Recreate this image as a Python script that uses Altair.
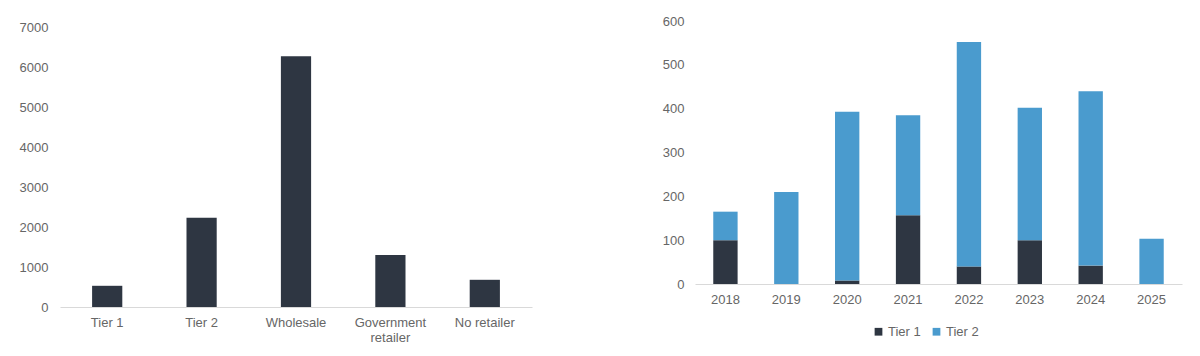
import altair as alt
import pandas as pd

# Left chart data
retail_cats = ["Tier 1", "Tier 2", "Wholesale", "Government retailer", "No retailer"]
retail_vals = [530, 2230, 6270, 1300, 680]

# Right chart data
years = ["2018", "2019", "2020", "2021", "2022", "2023", "2024", "2025"]
tier1 = [100, 0, 8, 157, 40, 100, 42, 0]
tier2 = [65, 210, 385, 228, 512, 302, 398, 103]

FONT = "Liberation Sans"
TXT = "#666666"
DARK = "#2E3642"
BLUE = "#4A9BCE"

df_left = pd.DataFrame({"cat": retail_cats, "val": retail_vals})

rows = []
for y, a, b in zip(years, tier1, tier2):
    rows.append({"year": y, "series": "Tier 1", "val": a, "ord": 0})
    rows.append({"year": y, "series": "Tier 2", "val": b, "ord": 1})
df_right = pd.DataFrame(rows)

left = alt.Chart(df_left).mark_bar(color=DARK).encode(
    x=alt.X("cat:N", sort=retail_cats, title=None,
            scale=alt.Scale(paddingInner=0.68, paddingOuter=0.34),
            axis=alt.Axis(labelAngle=0, ticks=False, domainColor="#D9D9D9",
                          labelPadding=9,
                          labelExpr="datum.label == 'Government retailer' ? ['Government', 'retailer'] : datum.label")),
    y=alt.Y("val:Q", title=None,
            scale=alt.Scale(domain=[0, 7150], nice=False),
            axis=alt.Axis(values=[0, 1000, 2000, 3000, 4000, 5000, 6000, 7000], format="d",
                          grid=False, ticks=False, domain=False, labelPadding=12)),
).properties(width=472, height=286)

right = alt.Chart(df_right).mark_bar().encode(
    x=alt.X("year:N", sort=years, title=None,
            scale=alt.Scale(paddingInner=0.6, paddingOuter=0.3),
            axis=alt.Axis(labelAngle=0, ticks=False, domainColor="#D9D9D9", labelPadding=9)),
    y=alt.Y("val:Q", title=None, stack="zero",
            scale=alt.Scale(domain=[0, 600], nice=False),
            axis=alt.Axis(values=[0, 100, 200, 300, 400, 500, 600], format="d",
                          grid=False, ticks=False, domain=False, labelPadding=11)),
    color=alt.Color("series:N", title=None,
                    scale=alt.Scale(domain=["Tier 1", "Tier 2"], range=[DARK, BLUE]),
                    legend=alt.Legend(orient="none", direction="horizontal",
                                      legendX=812, legendY=304,
                                      symbolType="square", symbolSize=60,
                                      columnPadding=9, labelFontSize=13, labelOffset=3)),
    order=alt.Order("ord:Q", sort="ascending"),
).properties(width=487, height=263)

chart = alt.hconcat(left, right, spacing=163, bounds="flush").properties(
    padding={"left": 19, "top": 15, "right": 5, "bottom": 5}
).configure_view(stroke=None).configure_axis(
    labelFont=FONT, labelFontSize=13, labelColor=TXT
).configure_legend(labelFont=FONT, labelColor=TXT)

chart.save("out.html", embed_options={"renderer": "svg", "actions": False})
